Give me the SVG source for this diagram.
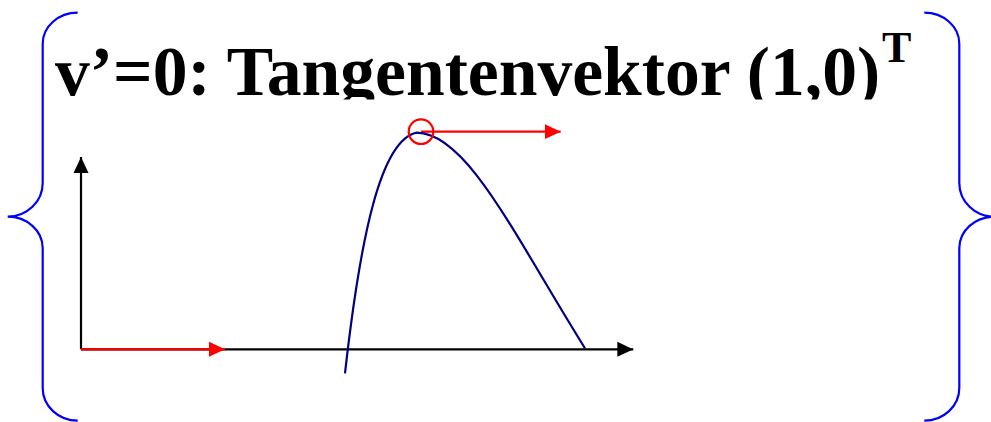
<svg xmlns="http://www.w3.org/2000/svg" width="991" height="422" viewBox="0 0 991 422">
<style>
.brace{fill:none;stroke:#0000ff;stroke-width:2.2}
.axis{fill:none;stroke:#000;stroke-width:2.2}
.red{fill:none;stroke:#ff0000;stroke-width:2.2}
.curve{fill:none;stroke:#000080;stroke-width:2.2}
.title{font-family:"Liberation Serif","Times New Roman",serif;font-weight:bold;fill:#000}
</style>
<defs>
<marker id="ab" viewBox="0 0 16 16" refX="16" refY="8" markerWidth="16" markerHeight="16" markerUnits="userSpaceOnUse" orient="auto"><path d="M0,0.5 L16,8 L0,15.5 Z" fill="#000"/></marker>
<marker id="ar" viewBox="0 0 16 16" refX="16" refY="8" markerWidth="16" markerHeight="16" markerUnits="userSpaceOnUse" orient="auto"><path d="M0,0.5 L16,8 L0,15.5 Z" fill="#ff0000"/></marker>
<clipPath id="tc"><rect x="0" y="0" width="991" height="99.5"/></clipPath>
</defs>
<g id="left-brace"><path class="brace" d="M77.7,12.7 A35,31 0 0 0 42.7,43.7 L42.7,183 A35,33.7 0 0 1 7.7,216.7 A35,31.3 0 0 1 42.7,248 L42.7,388 A35,32.7 0 0 0 77.7,420.7"/></g>
<g id="right-brace"><path class="brace" d="M924.3,12.7 A35,31 0 0 1 959.3,43.7 L959.3,183 A35,33.7 0 0 0 994.3,216.7 A35,31.3 0 0 0 959.3,248 L959.3,388 A35,32.7 0 0 1 924.3,420.7"/></g>
<g id="title" clip-path="url(#tc)">
<text class="title" x="55" y="94.5" font-size="69.6">v’=0: Tangentenvektor (1,0)</text>
<text class="title" x="882" y="62" font-size="44">T</text>
</g>
<g id="connectors">
<line id="y-axis" class="axis" x1="81" y1="349.3" x2="81" y2="157" marker-end="url(#ab)"/>
<line id="x-axis" class="axis" x1="81" y1="349.3" x2="633.3" y2="349.3" marker-end="url(#ab)"/>
<line id="red-vector-origin" class="red" x1="81" y1="349.3" x2="225" y2="349.3" marker-end="url(#ar)"/>
<line id="red-tangent" class="red" x1="421" y1="131.7" x2="560.7" y2="131.7" marker-end="url(#ar)"/>
</g>
<g id="curve"><path class="curve" d="M345,373.3 C360,240 380,140 416.7,132.7 C466.7,132.7 515,236.3 585,348.3"/></g>
<g id="tangent-point"><circle cx="421" cy="131.7" r="12.3" class="red"/></g>
</svg>
